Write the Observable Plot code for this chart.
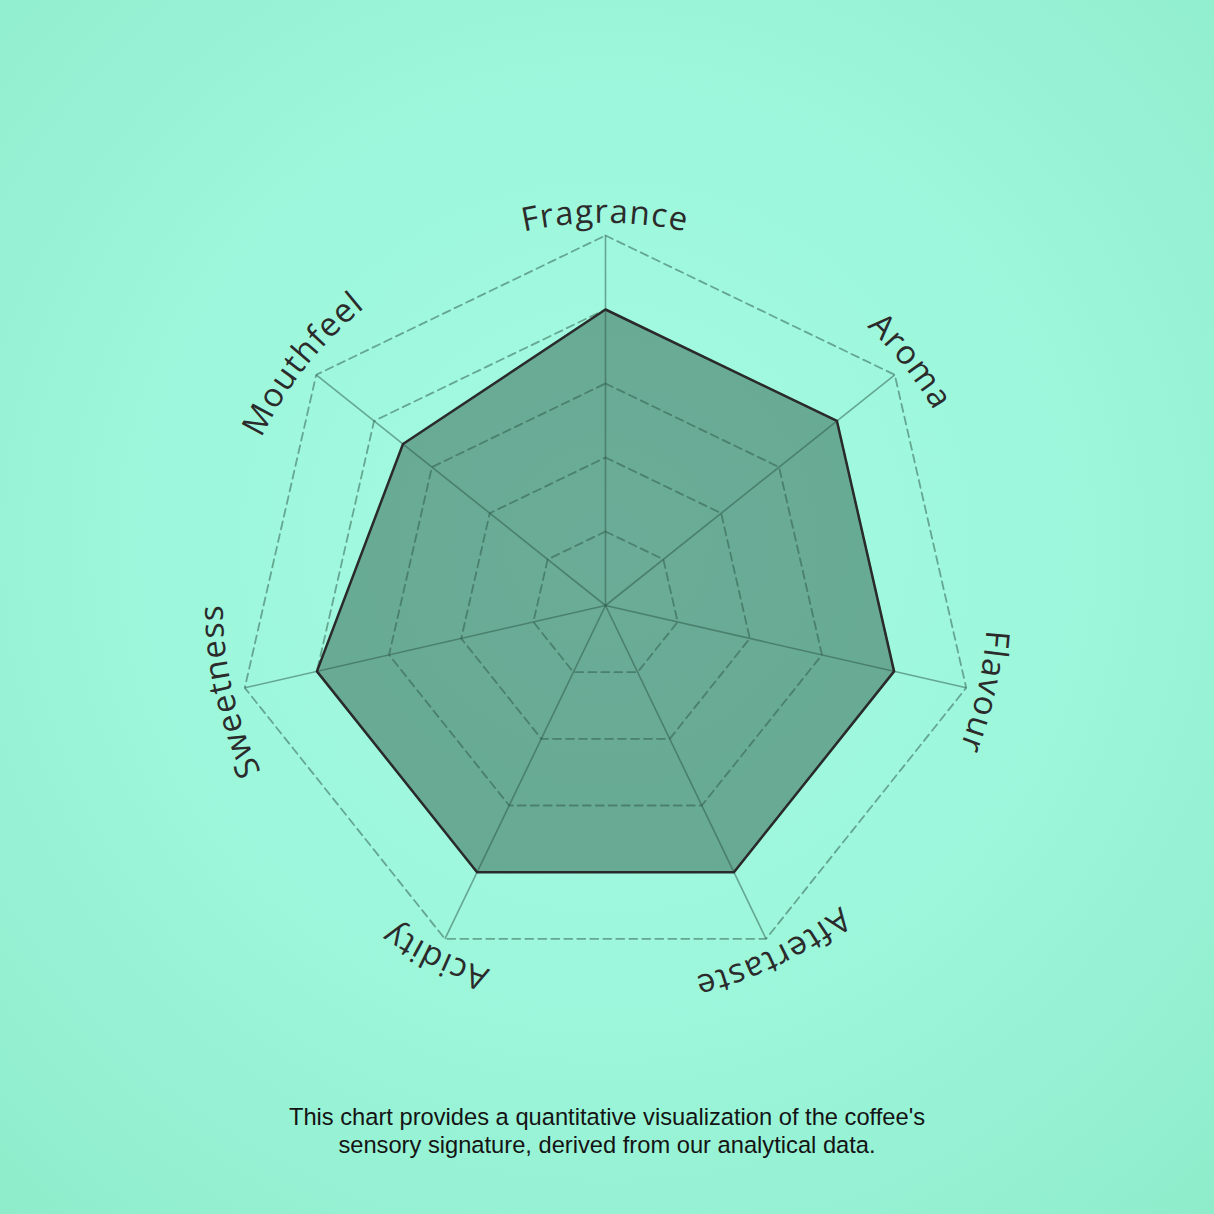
<!DOCTYPE html>
<html>
<head>
<meta charset="utf-8">
<script src="https://cdn.jsdelivr.net/npm/d3@7"></script>
<script src="https://cdn.jsdelivr.net/npm/@observablehq/plot@0.6"></script>
<style>
  html, body { margin: 0; padding: 0; }
  body {
    width: 1214px; height: 1214px; overflow: hidden; position: relative;
    background: radial-gradient(circle at 50% 45%, #a4fce2 0%, #9cf6da 55%, #8eeccb 100%);
  }
  #chart { position: absolute; left: 0; top: 0; }
  #caption {
    position: absolute; left: 0; top: 1103px; width: 1214px; text-align: center;
    font-family: "Liberation Sans", Arial, sans-serif; font-size: 23.7px; line-height: 28px; color: #141414;
  }
</style>
</head>
<body>
<div id="chart"></div>
<div id="caption">This chart provides a quantitative visualization of the coffee's<br>sensory signature, derived from our analytical data.</div>
<script>
// ---- data ----
const attributes = ["Fragrance", "Aroma", "Flavour", "Aftertaste", "Acidity", "Sweetness", "Mouthfeel"];
const scores = [8, 8, 8, 8, 8, 8, 7];
const gridLevels = [2, 4, 6, 8, 10];
const maxScore = 10;
const labelRadius = 10.33; // baseline of labels, in score units

// ---- derived tables ----
const n = attributes.length;
const angleOf = i => (2 * Math.PI * i) / n; // clockwise from top
const px = (v, i) => v * Math.sin(angleOf(i));
const py = (v, i) => v * Math.cos(angleOf(i));

const ringPoints = gridLevels.flatMap(level =>
  attributes.map((a, i) => ({level, x: px(level, i), y: py(level, i)}))
);
const spokes = attributes.map((a, i) => ({name: a, x2: px(maxScore, i), y2: py(maxScore, i)}));
const profile = attributes.map((a, i) => ({name: a, x: px(scores[i], i), y: py(scores[i], i)}));
const labels = attributes.map((a, i) => ({name: a, angle: angleOf(i)}));

// curved labels drawn with the plot's own scales
function curvedLabels(index, scales) {
  const svgNS = "http://www.w3.org/2000/svg";
  const g = document.createElementNS(svgNS, "g");
  const cx = scales.x(0), cy = scales.y(0);
  const r = scales.x(labelRadius) - scales.x(0);
  const defs = document.createElementNS(svgNS, "defs");
  g.appendChild(defs);
  labels.forEach((d, k) => {
    const a0 = d.angle - 1.4, a1 = d.angle + 1.4;
    const p0 = [cx + r * Math.sin(a0), cy - r * Math.cos(a0)];
    const p1 = [cx + r * Math.sin(a1), cy - r * Math.cos(a1)];
    const path = document.createElementNS(svgNS, "path");
    const id = "lbl-arc-" + k;
    path.setAttribute("id", id);
    path.setAttribute("d", `M${p0[0]},${p0[1]} A${r},${r} 0 0 1 ${p1[0]},${p1[1]}`);
    path.setAttribute("fill", "none");
    defs.appendChild(path);
    const text = document.createElementNS(svgNS, "text");
    text.setAttribute("font-family", "'Open Sans', 'Noto Sans', sans-serif");
    text.setAttribute("font-size", "33");
    text.setAttribute("letter-spacing", "1.2");
    text.setAttribute("fill", "#2b2b2b");
    const tp = document.createElementNS(svgNS, "textPath");
    tp.setAttribute("href", "#" + id);
    tp.setAttributeNS("http://www.w3.org/1999/xlink", "xlink:href", "#" + id);
    tp.setAttribute("startOffset", "50%");
    tp.setAttribute("text-anchor", "middle");
    tp.textContent = d.name;
    text.appendChild(tp);
    g.appendChild(text);
  });
  return g;
}

const gridColor = "#2c5546";

const chart = Plot.plot({
  width: 1214,
  height: 1100,
  style: {background: "transparent", overflow: "visible"},
  x: {domain: [-maxScore, maxScore], range: [235, 975], axis: null},
  y: {domain: [-maxScore, maxScore], range: [975, 235], axis: null},
  marks: [
    Plot.line(profile, {
      x: "x", y: "y", curve: "linear-closed",
      fill: gridColor, fillOpacity: 0.48, stroke: "none"
    }),
    Plot.link(spokes, {
      x1: () => 0, y1: () => 0, x2: "x2", y2: "y2",
      stroke: gridColor, strokeOpacity: 0.5, strokeWidth: 1.6
    }),
    Plot.line(ringPoints, {
      x: "x", y: "y", z: "level", curve: "linear-closed",
      stroke: gridColor, strokeOpacity: 0.5, strokeWidth: 1.8, strokeDasharray: "8,5"
    }),
    Plot.line(profile, {
      x: "x", y: "y", curve: "linear-closed",
      fill: "none", stroke: "#2a2a2a", strokeWidth: 2.5
    }),
    curvedLabels
  ]
});
document.getElementById("chart").appendChild(chart);
</script>
</body>
</html>
